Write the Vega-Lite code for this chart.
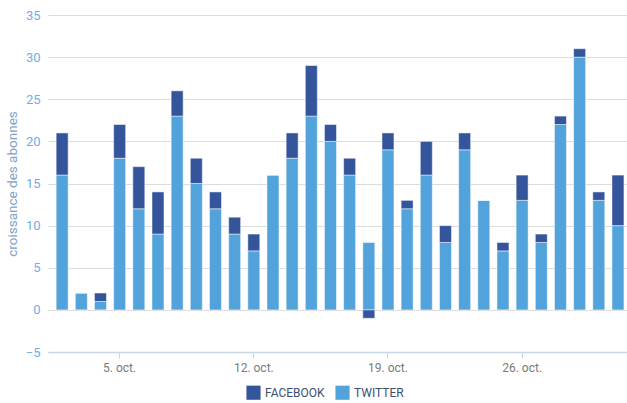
{
  "$schema": "https://vega.github.io/schema/vega-lite/v6.json",
  "width": 579,
  "height": 337,
  "autosize": {"type": "none"},
  "padding": {"left": 48, "top": 15, "right": 0, "bottom": 51},
  "background": "white",
  "config": {
    "view": {"stroke": null},
    "font": "Roboto"
  },
  "data": {
    "values": [
      {"date": "2015-10-02", "series": "TWITTER", "v": 16}, {"date": "2015-10-02", "series": "FACEBOOK", "v": 5},
      {"date": "2015-10-03", "series": "TWITTER", "v": 2}, {"date": "2015-10-03", "series": "FACEBOOK", "v": 0},
      {"date": "2015-10-04", "series": "TWITTER", "v": 1}, {"date": "2015-10-04", "series": "FACEBOOK", "v": 1},
      {"date": "2015-10-05", "series": "TWITTER", "v": 18}, {"date": "2015-10-05", "series": "FACEBOOK", "v": 4},
      {"date": "2015-10-06", "series": "TWITTER", "v": 12}, {"date": "2015-10-06", "series": "FACEBOOK", "v": 5},
      {"date": "2015-10-07", "series": "TWITTER", "v": 9}, {"date": "2015-10-07", "series": "FACEBOOK", "v": 5},
      {"date": "2015-10-08", "series": "TWITTER", "v": 23}, {"date": "2015-10-08", "series": "FACEBOOK", "v": 3},
      {"date": "2015-10-09", "series": "TWITTER", "v": 15}, {"date": "2015-10-09", "series": "FACEBOOK", "v": 3},
      {"date": "2015-10-10", "series": "TWITTER", "v": 12}, {"date": "2015-10-10", "series": "FACEBOOK", "v": 2},
      {"date": "2015-10-11", "series": "TWITTER", "v": 9}, {"date": "2015-10-11", "series": "FACEBOOK", "v": 2},
      {"date": "2015-10-12", "series": "TWITTER", "v": 7}, {"date": "2015-10-12", "series": "FACEBOOK", "v": 2},
      {"date": "2015-10-13", "series": "TWITTER", "v": 16}, {"date": "2015-10-13", "series": "FACEBOOK", "v": 0},
      {"date": "2015-10-14", "series": "TWITTER", "v": 18}, {"date": "2015-10-14", "series": "FACEBOOK", "v": 3},
      {"date": "2015-10-15", "series": "TWITTER", "v": 23}, {"date": "2015-10-15", "series": "FACEBOOK", "v": 6},
      {"date": "2015-10-16", "series": "TWITTER", "v": 20}, {"date": "2015-10-16", "series": "FACEBOOK", "v": 2},
      {"date": "2015-10-17", "series": "TWITTER", "v": 16}, {"date": "2015-10-17", "series": "FACEBOOK", "v": 2},
      {"date": "2015-10-18", "series": "TWITTER", "v": 8}, {"date": "2015-10-18", "series": "FACEBOOK", "v": -1},
      {"date": "2015-10-19", "series": "TWITTER", "v": 19}, {"date": "2015-10-19", "series": "FACEBOOK", "v": 2},
      {"date": "2015-10-20", "series": "TWITTER", "v": 12}, {"date": "2015-10-20", "series": "FACEBOOK", "v": 1},
      {"date": "2015-10-21", "series": "TWITTER", "v": 16}, {"date": "2015-10-21", "series": "FACEBOOK", "v": 4},
      {"date": "2015-10-22", "series": "TWITTER", "v": 8}, {"date": "2015-10-22", "series": "FACEBOOK", "v": 2},
      {"date": "2015-10-23", "series": "TWITTER", "v": 19}, {"date": "2015-10-23", "series": "FACEBOOK", "v": 2},
      {"date": "2015-10-24", "series": "TWITTER", "v": 13}, {"date": "2015-10-24", "series": "FACEBOOK", "v": 0},
      {"date": "2015-10-25", "series": "TWITTER", "v": 7}, {"date": "2015-10-25", "series": "FACEBOOK", "v": 1},
      {"date": "2015-10-26", "series": "TWITTER", "v": 13}, {"date": "2015-10-26", "series": "FACEBOOK", "v": 3},
      {"date": "2015-10-27", "series": "TWITTER", "v": 8}, {"date": "2015-10-27", "series": "FACEBOOK", "v": 1},
      {"date": "2015-10-28", "series": "TWITTER", "v": 22}, {"date": "2015-10-28", "series": "FACEBOOK", "v": 1},
      {"date": "2015-10-29", "series": "TWITTER", "v": 30}, {"date": "2015-10-29", "series": "FACEBOOK", "v": 1},
      {"date": "2015-10-30", "series": "TWITTER", "v": 13}, {"date": "2015-10-30", "series": "FACEBOOK", "v": 1},
      {"date": "2015-10-31", "series": "TWITTER", "v": 10}, {"date": "2015-10-31", "series": "FACEBOOK", "v": 6}
    ]
  },
  "mark": {"type": "bar", "width": 12, "stroke": "white", "strokeWidth": 0.5},
  "encoding": {
    "x": {
      "field": "date",
      "type": "ordinal",
      "scale": {"paddingInner": 0.37, "paddingOuter": 0.29, "align": 0.73},
      "axis": {
        "title": null,
        "values": ["2015-10-05", "2015-10-12", "2015-10-19", "2015-10-26"],
        "labelExpr": "toNumber(substring(datum.value, 8, 10)) + '. oct.'",
        "labelAngle": 0,
        "labelColor": "#7a7a7a",
        "labelFontSize": 12,
        "labelPadding": 4,
        "domainColor": "#c7d6e6",
        "domainWidth": 1.5,
        "tickColor": "#c7d6e6",
        "tickSize": 6,
        "grid": false
      }
    },
    "y": {
      "aggregate": "sum",
      "field": "v",
      "type": "quantitative",
      "stack": "zero",
      "scale": {"domain": [-5, 35], "nice": false},
      "axis": {
        "title": "croissance des abonnes",
        "titleColor": "#7ea2c6",
        "titleFontSize": 13.5,
        "titleFontWeight": "normal",
        "titlePadding": 6,
        "values": [-5, 0, 5, 10, 15, 20, 25, 30, 35],
        "labelColor": "#6faee8",
        "labelFontSize": 13,
        "labelPadding": 8,
        "domain": false,
        "ticks": false,
        "gridColor": "#dcdcdc",
        "gridWidth": 1.2
      }
    },
    "color": {
      "field": "series",
      "type": "nominal",
      "scale": {"domain": ["FACEBOOK", "TWITTER"], "range": ["#34549b", "#52a3db"]},
      "legend": {
        "title": null,
        "orient": "none",
        "direction": "horizontal",
        "legendX": 198,
        "legendY": 370,
        "symbolType": "square",
        "symbolSize": 200,
        "symbolStrokeWidth": 0,
        "labelColor": "#3d4f73",
        "labelFontSize": 12,
        "columnPadding": 10
      }
    },
    "order": {"field": "series", "sort": "descending"}
  }
}
